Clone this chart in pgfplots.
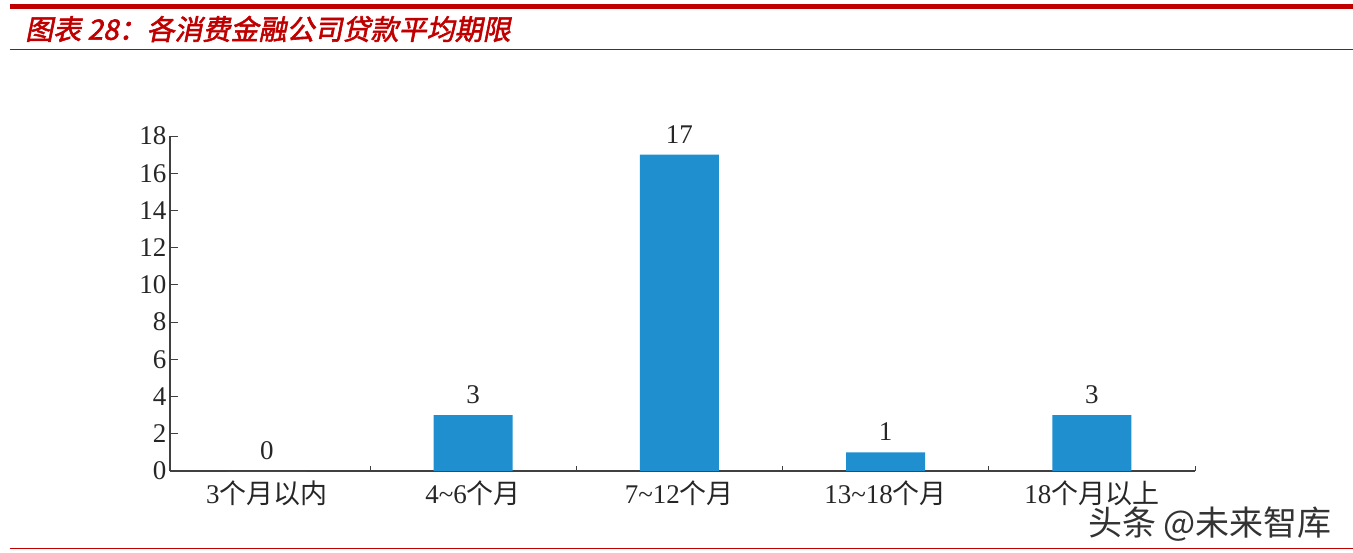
\documentclass[border=0pt]{standalone}
\usepackage{pgfplots}
\pgfplotsset{compat=1.18}
\usepackage{fontspec}
\setmainfont{Liberation Serif}
\newfontfamily\cjk{Noto Sans CJK SC}
\newfontfamily\titlefont[FakeSlant=0.2,FakeBold=2]{Noto Sans CJK SC}
\definecolor{barblue}{RGB}{31,143,208}
\definecolor{titlered}{RGB}{192,0,0}
\definecolor{axisgray}{RGB}{64,64,64}
\begin{document}
\begin{tikzpicture}
\path[use as bounding box] (0,0) rectangle (1353bp,-553bp);
\fill[titlered] (10bp,-3.5bp) rectangle (1353bp,-8.5bp);
\fill[titlered] (10bp,-48.5bp) rectangle (1353bp,-50bp);
\fill[titlered] (10bp,-547.5bp) rectangle (1353bp,-549bp);
\node[anchor=west, text=titlered, font=\titlefont\fontsize{28bp}{30bp}\selectfont, inner sep=0] at (25bp,-29bp) {图表 28：各消费金融公司贷款平均期限};
\begin{axis}[
  at={(170bp,-471bp)}, anchor=south west,
  scale only axis, width=1025bp, height=335bp,
  ybar, bar width=79bp,
  xmin=-0.47, xmax=4.5, ymin=0, ymax=18,
  ytick={0,2,...,18},
  xtick={0,1,2,3,4},
  xticklabels={{3{\cjk 个月以内}},{4\textasciitilde 6{\cjk 个月}},{7\textasciitilde 12{\cjk 个月}},{13\textasciitilde 18{\cjk 个月}},{18{\cjk 个月以上}}},
  minor xtick={0.5,1.5,2.5,3.5,4.5},
  major x tick style={draw=none},
  axis x line*=bottom, axis y line*=left,
  axis line style={axisgray, line width=1.2bp, -},
  tick style={axisgray, line width=1bp},
  tick align=inside,
  major tick length=8bp, minor tick length=5bp,
  ticklabel style={font=\fontsize{27bp}{30bp}\selectfont, text=black!85},
  xticklabel style={yshift=-6bp},
  /pgf/number format/assume math mode=true,
  nodes near coords,
  every node near coord/.append style={font=\fontsize{27bp}{30bp}\selectfont, text=black!85, yshift=8bp},
  clip=false,
]
\addplot[fill=barblue, draw=none] coordinates {(0,0) (1,3) (2,17) (3,1) (4,3)};
\end{axis}
\node[anchor=west, font=\cjk\fontsize{34bp}{36bp}\selectfont, text=black!80, inner sep=0] at (1088bp,-524bp) {头条 @未来智库};
\end{tikzpicture}
\end{document}
